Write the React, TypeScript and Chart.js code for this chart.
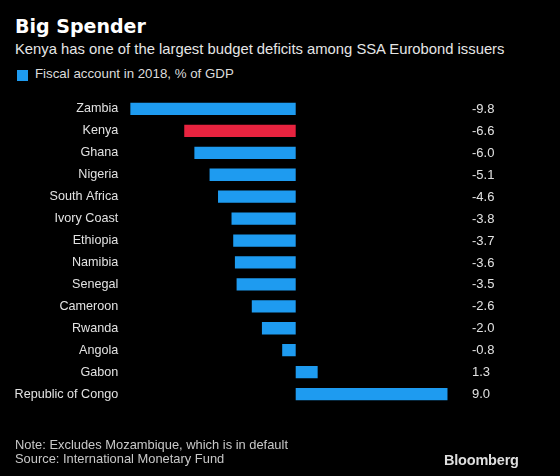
import React, { useEffect, useRef } from "react";
import { Chart, registerables } from "chart.js";

Chart.register(...registerables);

const categories: string[] = [
  "Zambia",
  "Kenya",
  "Ghana",
  "Nigeria",
  "South Africa",
  "Ivory Coast",
  "Ethiopia",
  "Namibia",
  "Senegal",
  "Cameroon",
  "Rwanda",
  "Angola",
  "Gabon",
  "Republic of Congo",
];

const fiscalAccount: number[] = [
  -9.8, -6.6, -6.0, -5.1, -4.6, -3.8, -3.7, -3.6, -3.5, -2.6, -2.0, -0.8, 1.3, 9.0,
];

const highlighted: string[] = ["Kenya"];

const seriesLabel = "Fiscal account in 2018, % of GDP";
const titleText = "Big Spender";
const subtitleText = "Kenya has one of the largest budget deficits among SSA Eurobond issuers";
const noteText = "Note: Excludes Mozambique, which is in default";
const sourceText = "Source: International Monetary Fund";

const BLUE = "#1e9bf0";
const RED = "#e8233f";
const FONT = "'Liberation Sans', Arial, sans-serif";

export default function App() {
  const canvasRef = useRef<HTMLCanvasElement | null>(null);

  useEffect(() => {
    if (!canvasRef.current) return;
    const valueLabels = {
      id: "valueLabels",
      afterDatasetsDraw(chart: any) {
        const ctx = chart.ctx;
        const meta = chart.getDatasetMeta(0);
        ctx.save();
        ctx.fillStyle = "#e2e2e2";
        ctx.font = `13px ${FONT}`;
        ctx.textAlign = "left";
        ctx.textBaseline = "middle";
        meta.data.forEach((bar: any, i: number) => {
          ctx.fillText(fiscalAccount[i].toFixed(1), 472, bar.y + 0.5);
        });
        ctx.restore();
      },
    };

    const chart = new Chart(canvasRef.current, {
      type: "bar",
      data: {
        labels: categories,
        datasets: [
          {
            label: seriesLabel,
            data: fiscalAccount,
            backgroundColor: categories.map((c) => (highlighted.includes(c) ? RED : BLUE)),
            borderWidth: 0,
            barPercentage: 0.56,
            categoryPercentage: 1,
          },
        ],
      },
      options: {
        indexAxis: "y",
        animation: false,
        responsive: false,
        maintainAspectRatio: false,
        layout: { padding: { left: 0, right: 112.3, top: 98, bottom: 71 } },
        plugins: {
          legend: { display: false },
          title: { display: false },
          tooltip: { enabled: false },
        },
        scales: {
          x: {
            min: -9.8,
            max: 9.0,
            display: false,
          },
          y: {
            grid: { display: false, drawTicks: false },
            border: { display: false },
            ticks: {
              color: "#e2e2e2",
              font: { family: FONT, size: 12.6 },
              padding: 12,
              autoSkip: false,
            },
            afterFit(scale: any) {
              scale.width = 130.2;
            },
          },
        },
      },
      plugins: [valueLabels],
    });
    return () => chart.destroy();
  }, []);

  const abs = (style: React.CSSProperties): React.CSSProperties => ({
    position: "absolute",
    whiteSpace: "nowrap",
    lineHeight: 1,
    margin: 0,
    ...style,
  });

  return (
    <div
      style={{
        position: "fixed",
        left: 0,
        top: 0,
        width: 560,
        height: 476,
        background: "#000",
        overflow: "hidden",
        fontFamily: FONT,
      }}
    >
      <div
        style={abs({
          left: 15,
          top: 16.6,
          fontFamily: "'DejaVu Sans', sans-serif",
          fontWeight: 700,
          fontSize: 19,
          color: "#ffffff",
        })}
      >
        {titleText}
      </div>
      <div style={abs({ left: 15, top: 41.5, fontSize: 14.8, color: "#e6e6e6" })}>{subtitleText}</div>
      <div
        style={abs({ left: 16.5, top: 70, width: 11, height: 11, background: BLUE })}
      />
      <div style={abs({ left: 35, top: 67.3, fontSize: 13.3, color: "#dcdcdc" })}>{seriesLabel}</div>
      <canvas
        ref={canvasRef}
        width={560}
        height={476}
        style={{ position: "absolute", left: 0, top: 0, width: 560, height: 476 }}
      />
      <div style={abs({ left: 15, top: 438.6, fontSize: 12.9, color: "#c8c8c8" })}>{noteText}</div>
      <div style={abs({ left: 15, top: 452.6, fontSize: 12.9, color: "#c8c8c8" })}>{sourceText}</div>
      <div
        style={abs({
          left: 444,
          top: 452.7,
          fontSize: 14.5,
          fontWeight: 700,
          color: "#dedede",
          letterSpacing: -0.2,
        })}
      >
        Bloomberg
      </div>
    </div>
  );
}
